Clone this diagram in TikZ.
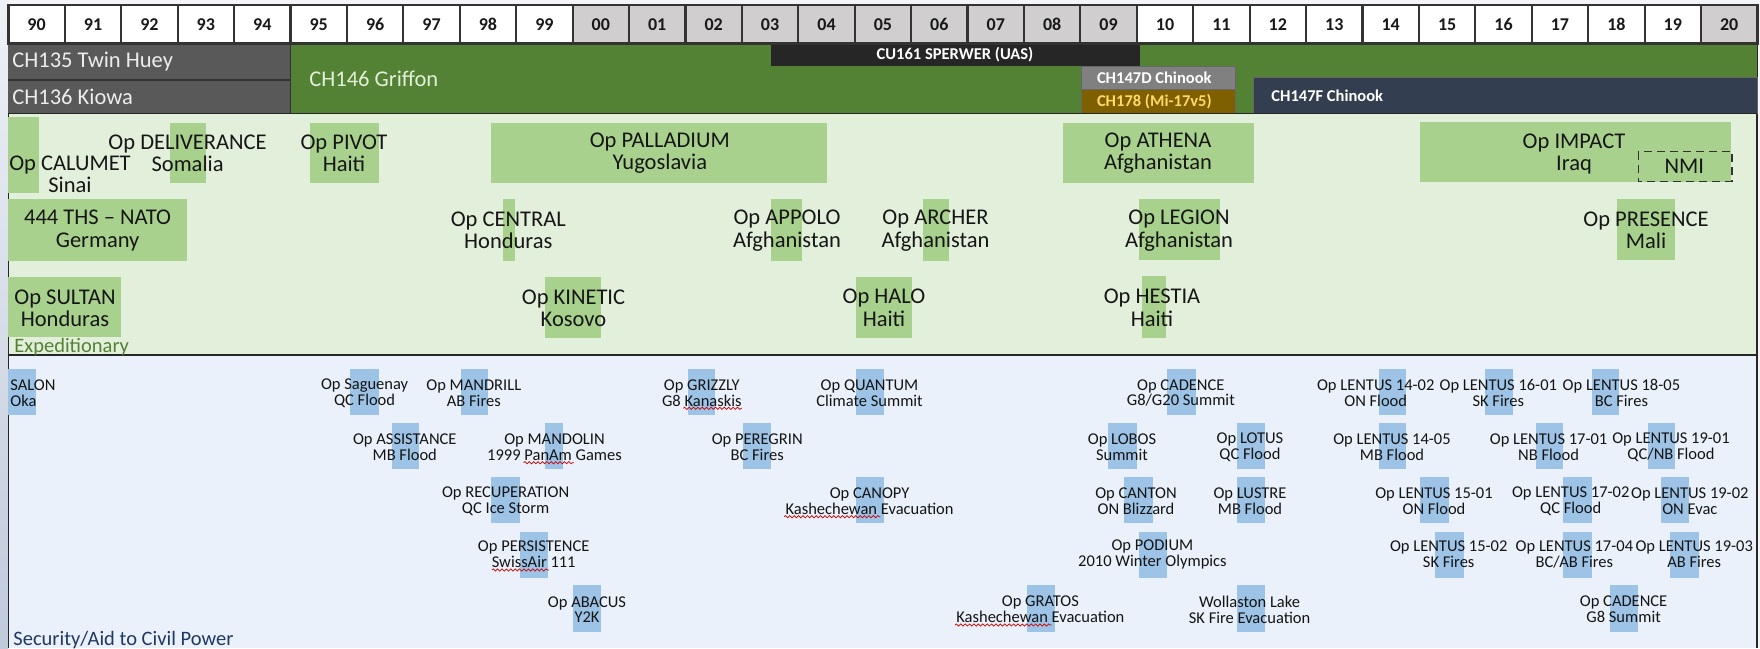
\documentclass[tikz,border=0pt]{standalone}
\usepackage{fontspec}
\setmainfont{Carlito}
\usetikzlibrary{decorations.pathmorphing}
\definecolor{pagebg}{HTML}{F3F5F8}
\definecolor{hdrgray}{HTML}{D0CECE}
\definecolor{hdrline}{HTML}{333333}
\definecolor{hueyc}{HTML}{595959}
\definecolor{griffc}{HTML}{548235}
\definecolor{griffTxt}{HTML}{E2EFD9}
\definecolor{sperc}{HTML}{262626}
\definecolor{chdc}{HTML}{808080}
\definecolor{mic}{HTML}{7F6000}
\definecolor{miTxt}{HTML}{FFD966}
\definecolor{chfc}{HTML}{333F50}
\definecolor{expbg}{HTML}{E2EFDA}
\definecolor{expbarc}{HTML}{A9D18E}
\definecolor{expTxt}{HTML}{161616}
\definecolor{explab}{HTML}{548235}
\definecolor{secbg}{HTML}{EAF1FA}
\definecolor{secbarc}{HTML}{9DC3E6}
\definecolor{secTxt}{HTML}{141414}
\definecolor{seclab}{HTML}{203864}
\definecolor{panelc}{HTML}{262626}
\definecolor{stripTop}{HTML}{EEF1F6}
\definecolor{stripBot}{HTML}{BFCADB}
\def\rAt{369.3}\def\rAb{415}\def\rAc{392.9}
\def\rBt{423.3}\def\rBb{469}\def\rBc{447.2}
\def\rCt{477.3}\def\rCb{522.7}\def\rCc{501}
\def\rDt{531.7}\def\rDb{577.7}\def\rDc{554.5}
\def\rEt{585}\def\rEb{631.7}\def\rEc{609.5}
\begin{document}
\begin{tikzpicture}[x=0.5pt,y=-0.5pt,
  hdrcell/.style={draw=hdrline, line width=1.1pt, minimum width=28.21pt, minimum height=19.25pt, inner sep=0pt, font=\bfseries\fontsize{9}{10}\selectfont, text=black!90},
  bigac/.style={anchor=west, inner sep=0pt, font=\fontsize{11.25}{13}\selectfont},
  smallac/.style={anchor=west, inner sep=0pt, font=\bfseries\fontsize{8.25}{10}\selectfont},
  expbar/.style={fill=expbarc},
  exptxt/.style={align=center, inner sep=0pt, text=expTxt, font=\fontsize{11.25}{11.25}\selectfont},
  secbar/.style={fill=secbarc},
  sectxt/.style={align=center, inner sep=0pt, text=secTxt, font=\fontsize{8.25}{7.85}\selectfont},
  squig/.style={draw=red!80!black, line width=0.35pt, decorate, decoration={snake, amplitude=0.55pt, segment length=2.2pt}},
  panelline/.style={draw=panelc, line width=0.9pt},
  sectionlabel/.style={anchor=west, inner sep=0pt, font=\fontsize{10.25}{12}\selectfont}
]
\useasboundingbox (0,0) rectangle (1760,648);
\fill[pagebg] (0,0) rectangle (1760,648);
\shade[top color=stripTop, bottom color=stripBot] (0,0) rectangle (8.4,648);

% ---------- panels ----------
\fill[expbg] (8.4,113.3) rectangle (1757,355);
\fill[secbg] (8.4,355) rectangle (1757,648);
\draw[panelline] (8.4,355) -- (1757,355);
\draw[panelline] (8.4,113.3) -- (8.4,648);
\draw[panelline] (1757,43.5) -- (1757,648);

% ---------- aircraft band ----------
\fill[hueyc] (8.4,43.5) rectangle (290.5,113.3);
\draw[black!80, line width=0.6pt] (8.4,80) -- (290.5,80);
\fill[griffc] (290.5,43.5) rectangle (1757,113.3);
\draw[black!80, line width=0.6pt] (290.5,43.5) -- (290.5,113.3);
\fill[sperc] (771.4,43.5) rectangle (1139.5,66);
\filldraw[fill=chdc, draw=black!60, line width=0.5pt] (1081.3,66.7) rectangle (1235.8,89.3);
\filldraw[fill=mic, draw=black!60, line width=0.5pt] (1081.3,89.3) rectangle (1235.8,113.3);
\filldraw[fill=chfc, draw=black!60, line width=0.5pt] (1253.8,77.7) rectangle (1757,113.3);
\draw[draw=panelc, line width=0.6pt] (8.4,113.3) -- (1757,113.3);

\node[bigac, text=white!93!black] (ch135) at (12,62) {CH135 Twin Huey};
\node[bigac, text=white!93!black] (ch136) at (12,97) {CH136 Kiowa};
\node[bigac, text=griffTxt] (ch146) at (309,78.5) {CH146 Griffon};
\node[smallac, anchor=center, text=white] (cu161) at (955,54.8) {CU161 SPERWER (UAS)};
\node[smallac, text=white] (ch147d) at (1096.6,78) {CH147D Chinook};
\node[smallac, text=miTxt] (ch178) at (1096.6,101.5) {CH178 (Mi-17v5)};
\node[smallac, text=white] (ch147f) at (1271,96.2) {CH147F Chinook};

% ---------- header ----------
\foreach \lab/\fc [count=\i from 0] in {90/white,91/white,92/white,93/white,94/white,95/white,96/white,97/white,98/white,99/white,00/hdrgray,01/hdrgray,02/hdrgray,03/hdrgray,04/hdrgray,05/hdrgray,06/hdrgray,07/hdrgray,08/hdrgray,09/hdrgray,10/white,11/white,12/white,13/white,14/white,15/white,16/white,17/white,18/white,19/white,20/hdrgray}
  \node[hdrcell, fill=\fc] (h\lab) at ({36.61+56.42*\i},24.25) {\lab};

% ---------- expeditionary ----------
\fill[expbar] (8.4,116.7) rectangle (39,193.3);
\fill[expbar] (169.5,122.7) rectangle (205.5,183.3);
\fill[expbar] (310,122.7) rectangle (378.9,183.3);
\fill[expbar] (491,122.7) rectangle (826.8,183.3);
\fill[expbar] (1063,122.7) rectangle (1253.8,183.3);
\fill[expbar] (1420,121.7) rectangle (1731,182.3);
\fill[expbar] (8.4,199.3) rectangle (186.8,260.7);
\fill[expbar] (502.5,199.3) rectangle (514.7,260.7);
\fill[expbar] (771.4,199.3) rectangle (802,261);
\fill[expbar] (922.5,199.3) rectangle (949.3,261);
\fill[expbar] (1138.7,199.3) rectangle (1220,260);
\fill[expbar] (1617.3,199.3) rectangle (1674.7,260);
\fill[expbar] (8.4,277.3) rectangle (121,337.3);
\fill[expbar] (545,277.3) rectangle (601,338);
\fill[expbar] (856.3,277.3) rectangle (912.2,338);
\fill[expbar] (1141.8,276) rectangle (1165.7,337.7);
\draw[dashed, dash pattern=on 4pt off 2.5pt, line width=0.75pt, draw=black!80] (1638.4,151.7) rectangle (1732,181.7);

\node[exptxt] (calumet) at (70,174.2) {Op CALUMET\\Sinai};
\node[exptxt] (deliverance) at (187.6,153.3) {Op DELIVERANCE\\Somalia};
\node[exptxt] (pivot) at (344,153.3) {Op PIVOT\\Haiti};
\node[exptxt] (palladium) at (659.8,152.9) {Op PALLADIUM\\Yugoslavia};
\node[exptxt] (athena) at (1158,153.3) {Op ATHENA\\Afghanistan};
\node[exptxt] (impact) at (1574,154.2) {Op IMPACT\\Iraq};
\node[exptxt] (nmi) at (1684.3,166.7) {NMI};
\node[exptxt] (ths) at (97.6,230.5) {444 THS -- NATO\\Germany};
\node[exptxt] (central) at (508.3,230.5) {Op CENTRAL\\Honduras};
\node[exptxt] (appolo) at (787,230.5) {Op APPOLO\\Afghanistan};
\node[exptxt] (archer) at (935.5,230.5) {Op ARCHER\\Afghanistan};
\node[exptxt] (legion) at (1179,230.5) {Op LEGION\\Afghanistan};
\node[exptxt] (presence) at (1646,230.5) {Op PRESENCE\\Mali};
\node[exptxt] (sultan) at (65,308.3) {Op SULTAN\\Honduras};
\node[exptxt] (kinetic) at (573.5,308.3) {Op KINETIC\\Kosovo};
\node[exptxt] (halo) at (884,308) {Op HALO\\Haiti};
\node[exptxt] (hestia) at (1152,308) {Op HESTIA\\Haiti};
\node[sectionlabel, text=explab] (explabel) at (14,347.5) {Expeditionary};

% ---------- security / aid to civil power ----------
\fill[secbar] (8.4,\rAt) rectangle (36.4,\rAb);
\fill[secbar] (350.2,\rAt) rectangle (378.9,\rAb);
\fill[secbar] (461.2,\rAt) rectangle (488,\rAb);
\fill[secbar] (391.5,\rBt) rectangle (419,\rBb);
\fill[secbar] (545.3,\rBt) rectangle (563.3,\rBb);
\fill[secbar] (491,\rCt) rectangle (519.7,\rCb);
\fill[secbar] (519.7,\rDt) rectangle (548.4,\rDb);
\fill[secbar] (572.9,\rEt) rectangle (601,\rEb);
\fill[secbar] (688.3,\rAt) rectangle (715,\rAb);
\fill[secbar] (856.3,\rAt) rectangle (883.5,\rAb);
\fill[secbar] (742.6,\rBt) rectangle (771.4,\rBb);
\fill[secbar] (856.3,\rCt) rectangle (883.5,\rCb);
\fill[secbar] (1026.6,\rEt) rectangle (1054.6,\rEb);
\fill[secbar] (1108,\rBt) rectangle (1136.8,\rBb);
\fill[secbar] (1124.2,\rCt) rectangle (1153,\rCb);
\fill[secbar] (1138.7,\rDt) rectangle (1166.7,\rDb);
\fill[secbar] (1167.4,\rAt) rectangle (1196.4,\rAb);
\fill[secbar] (1236.5,\rBt) rectangle (1264.5,\rBb);
\fill[secbar] (1236.5,\rCt) rectangle (1264.5,\rCb);
\fill[secbar] (1236.5,\rEt) rectangle (1264.5,\rEb);
\fill[secbar] (1379.3,\rAt) rectangle (1406,\rAb);
\fill[secbar] (1484.5,\rAt) rectangle (1513.2,\rAb);
\fill[secbar] (1591.7,\rAt) rectangle (1619.2,\rAb);
\fill[secbar] (1379.3,\rBt) rectangle (1406,\rBb);
\fill[secbar] (1536.2,\rBt) rectangle (1563,\rBb);
\fill[secbar] (1648,\rBt) rectangle (1674.7,\rBb);
\fill[secbar] (1420.2,\rCt) rectangle (1449,\rCb);
\fill[secbar] (1563,\rCt) rectangle (1591.7,\rCb);
\fill[secbar] (1660.6,\rCt) rectangle (1689.3,\rCb);
\fill[secbar] (1434.8,\rDt) rectangle (1463.5,\rDb);
\fill[secbar] (1563,\rDt) rectangle (1591.7,\rDb);
\fill[secbar] (1670,\rDt) rectangle (1698.8,\rDb);
\fill[secbar] (1609.7,\rEt) rectangle (1638.4,\rEb);

\node[sectxt, align=left, anchor=west] (salon) at (10,\rAc) {SALON\\Oka};
\node[sectxt] (saguenay) at (364.6,\rAc) {Op Saguenay\\QC Flood};
\node[sectxt] (mandrill) at (473.8,\rAc) {Op MANDRILL\\AB Fires};
\node[sectxt] (assistance) at (404.8,\rBc) {Op ASSISTANCE\\MB Flood};
\node[sectxt] (mandolin) at (554.5,\rBc) {Op MANDOLIN\\1999 PanAm Games};
\node[sectxt] (recuperation) at (505.6,\rCc) {Op RECUPERATION\\QC Ice Storm};
\node[sectxt] (persistence) at (533.7,\rDc) {Op PERSISTENCE\\SwissAir 111};
\node[sectxt] (abacus) at (587,\rEc) {Op ABACUS\\Y2K};
\node[sectxt] (grizzly) at (701.8,\rAc) {Op GRIZZLY\\G8 Kanaskis};
\node[sectxt] (quantum) at (869.5,\rAc) {Op QUANTUM\\Climate Summit};
\node[sectxt] (peregrin) at (757.2,\rBc) {Op PEREGRIN\\BC Fires};
\node[sectxt] (canopy) at (869.6,\rCc) {Op CANOPY\\Kashechewan Evacuation};
\node[sectxt] (gratos) at (1040.4,\rEc) {Op GRATOS\\Kashechewan Evacuation};
\node[sectxt] (lobos) at (1122,\rBc) {Op LOBOS\\Summit};
\node[sectxt] (canton) at (1136,\rCc) {Op CANTON\\ON Blizzard};
\node[sectxt] (podium) at (1152.4,\rDc) {Op PODIUM\\2010 Winter Olympics};
\node[sectxt] (cadencea) at (1180.8,\rAc) {Op CADENCE\\G8/G20 Summit};
\node[sectxt] (lotus) at (1250,\rBc) {Op LOTUS\\QC Flood};
\node[sectxt] (lustre) at (1250,\rCc) {Op LUSTRE\\MB Flood};
\node[sectxt] (wollaston) at (1249.6,\rEc) {Wollaston Lake\\SK Fire Evacuation};
\node[sectxt] (l1402) at (1375.7,\rAc) {Op LENTUS 14-02\\ON Flood};
\node[sectxt] (l1601) at (1498.3,\rAc) {Op LENTUS 16-01\\SK Fires};
\node[sectxt] (l1805) at (1621.4,\rAc) {Op LENTUS 18-05\\BC Fires};
\node[sectxt] (l1405) at (1392,\rBc) {Op LENTUS 14-05\\MB Flood};
\node[sectxt] (l1701) at (1548.6,\rBc) {Op LENTUS 17-01\\NB Flood};
\node[sectxt] (l1901) at (1671,\rBc) {Op LENTUS 19-01\\QC/NB Flood};
\node[sectxt] (l1501) at (1434,\rCc) {Op LENTUS 15-01\\ON Flood};
\node[sectxt] (l1702) at (1570.7,\rCc) {Op LENTUS 17-02\\QC Flood};
\node[sectxt] (l1902) at (1689.8,\rCc) {Op LENTUS 19-02\\ON Evac};
\node[sectxt] (l1502) at (1448.7,\rDc) {Op LENTUS 15-02\\SK Fires};
\node[sectxt] (l1704) at (1574.4,\rDc) {Op LENTUS 17-04\\BC/AB Fires};
\node[sectxt] (l1903) at (1694.2,\rDc) {Op LENTUS 19-03\\AB Fires};
\node[sectxt] (cadenceb) at (1623.6,\rEc) {Op CADENCE\\G8 Summit};

\draw[squig] (523.5,462.7) -- (574,462.7);
\draw[squig] (491.8,570) -- (549.2,570);
\draw[squig] (683.3,408.3) -- (741.9,408.3);
\draw[squig] (784,516.7) -- (880.4,516.7);
\draw[squig] (955,625) -- (1051.5,625);

\node[sectionlabel, text=seclab] (seclabel) at (13,640) {Security/Aid to Civil Power};
\end{tikzpicture}
\end{document}
